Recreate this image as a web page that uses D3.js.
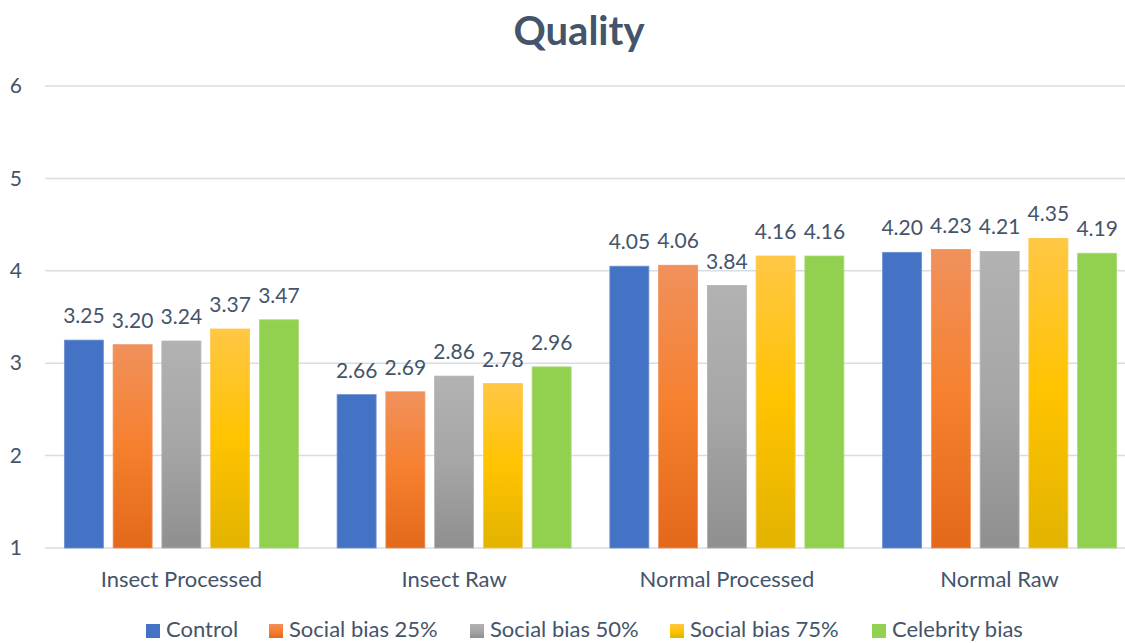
<!DOCTYPE html>
<html>
<head>
<meta charset="utf-8">
<script src="https://cdn.jsdelivr.net/npm/d3@7/dist/d3.min.js"></script>
<style>
  html, body { margin: 0; padding: 0; background: #fff; }
  svg { display: block; font-family: Lato, "Open Sans", sans-serif; }
</style>
</head>
<body>
<svg id="chart" width="1125" height="643"></svg>
<script>
// Mean quality ratings per product type and bias condition
const categories = ["Insect Processed", "Insect Raw", "Normal Processed", "Normal Raw"];
const seriesNames = ["Control", "Social bias 25%", "Social bias 50%", "Social bias 75%", "Celebrity bias"];
const control      = [3.25, 2.66, 4.05, 4.20];
const social25     = [3.20, 2.69, 4.06, 4.23];
const social50     = [3.24, 2.86, 3.84, 4.21];
const social75     = [3.37, 2.78, 4.16, 4.35];
const celebrity    = [3.47, 2.96, 4.16, 4.19];
const yTicks = [1, 2, 3, 4, 5, 6];

const seriesValues = [control, social25, social50, social75, celebrity];

// Fill styles: solid or three-stop vertical gradient (top, middle, bottom)
const fills = [
  { id: "s0", stops: ["#4472c4", "#4472c4", "#4472c4"], edge: "#6f90d0" },
  { id: "s1", stops: ["#f0915c", "#f6802e", "#e2691a"], edge: "#f0915c" },
  { id: "s2", stops: ["#b2b2b2", "#a6a6a6", "#8f8f8f"], edge: "#b2b2b2" },
  { id: "s3", stops: ["#ffc745", "#ffc300", "#e2b300"], edge: "#ffc745" },
  { id: "s4", stops: ["#92d050", "#92d050", "#92d050"], edge: "#a8da75" }
];

const textColor = "#44546a";
const svg = d3.select("#chart");
const defs = svg.append("defs");

fills.forEach(f => {
  const g = defs.append("linearGradient")
    .attr("id", f.id).attr("x1", 0).attr("y1", 0).attr("x2", 0).attr("y2", 1);
  g.append("stop").attr("offset", "0%").attr("stop-color", f.stops[0]);
  g.append("stop").attr("offset", "50%").attr("stop-color", f.stops[1]);
  g.append("stop").attr("offset", "100%").attr("stop-color", f.stops[2]);
});

const y = d3.scaleLinear().domain([1, 6]).range([548, 86]);
const x0 = d3.scaleBand().domain(categories).range([45, 1136]).paddingInner(0.142).paddingOuter(0.071);
const x1 = d3.scaleBand().domain(seriesNames).range([0, x0.bandwidth()]).paddingInner(0.2);

// Title
svg.append("text")
  .attr("x", 579).attr("y", 45)
  .attr("text-anchor", "middle")
  .attr("font-size", 40).attr("font-weight", 700)
  .attr("fill", textColor)
  .text("Quality");

// Horizontal gridlines
svg.append("g").selectAll("line").data(yTicks).join("line")
  .attr("x1", 45).attr("x2", 1125)
  .attr("y1", d => y(d)).attr("y2", d => y(d))
  .attr("stroke", "#d9dce3").attr("stroke-width", 1.5);

// Y axis labels
const yAxis = d3.axisLeft(y).tickValues(yTicks).tickFormat(d3.format("d")).tickSize(0).tickPadding(0);
const yg = svg.append("g").attr("transform", "translate(22,0)").call(yAxis);
yg.select(".domain").remove();
yg.selectAll("text").attr("font-size", 21).attr("fill", textColor).attr("font-family", "Lato, sans-serif");

// X axis labels
const xAxis = d3.axisBottom(x0).tickSize(0).tickPadding(0);
const xg = svg.append("g").attr("transform", "translate(0,587)").call(xAxis);
xg.select(".domain").remove();
xg.selectAll("text").attr("font-size", 22).attr("fill", textColor).attr("font-family", "Lato, sans-serif").attr("dy", 0);

// Bars
const groups = svg.append("g").selectAll("g").data(categories).join("g")
  .attr("transform", d => `translate(${x0(d)},0)`);

groups.each(function(cat, ci) {
  const g = d3.select(this);
  const rows = seriesNames.map((s, si) => ({ s, si, v: seriesValues[si][ci] }));
  g.selectAll("rect").data(rows).join("rect")
    .attr("x", d => x1(d.s))
    .attr("y", d => y(d.v))
    .attr("width", x1.bandwidth())
    .attr("height", d => y(1) - y(d.v))
    .attr("fill", d => `url(#${fills[d.si].id})`)
    .attr("stroke", d => fills[d.si].edge).attr("stroke-width", 0.8);
  g.selectAll("text").data(rows).join("text")
    .attr("x", d => x1(d.s) + x1.bandwidth() / 2)
    .attr("y", d => y(d.v) - 17)
    .attr("text-anchor", "middle")
    .attr("font-size", 21)
    .attr("fill", textColor)
    .text(d => d3.format(".2f")(d.v));
});

// Legend
const legendX = [146, 269, 470, 670, 872];
const lg = svg.append("g").selectAll("g").data(seriesNames).join("g")
  .attr("transform", (d, i) => `translate(${legendX[i]},0)`);
lg.append("rect")
  .attr("x", 0).attr("y", 624).attr("width", 14).attr("height", 14)
  .attr("fill", (d, i) => `url(#${fills[i].id})`);
lg.append("text")
  .attr("x", 20).attr("y", 637)
  .attr("font-size", 22).attr("fill", textColor)
  .text(d => d);
</script>
</body>
</html>
